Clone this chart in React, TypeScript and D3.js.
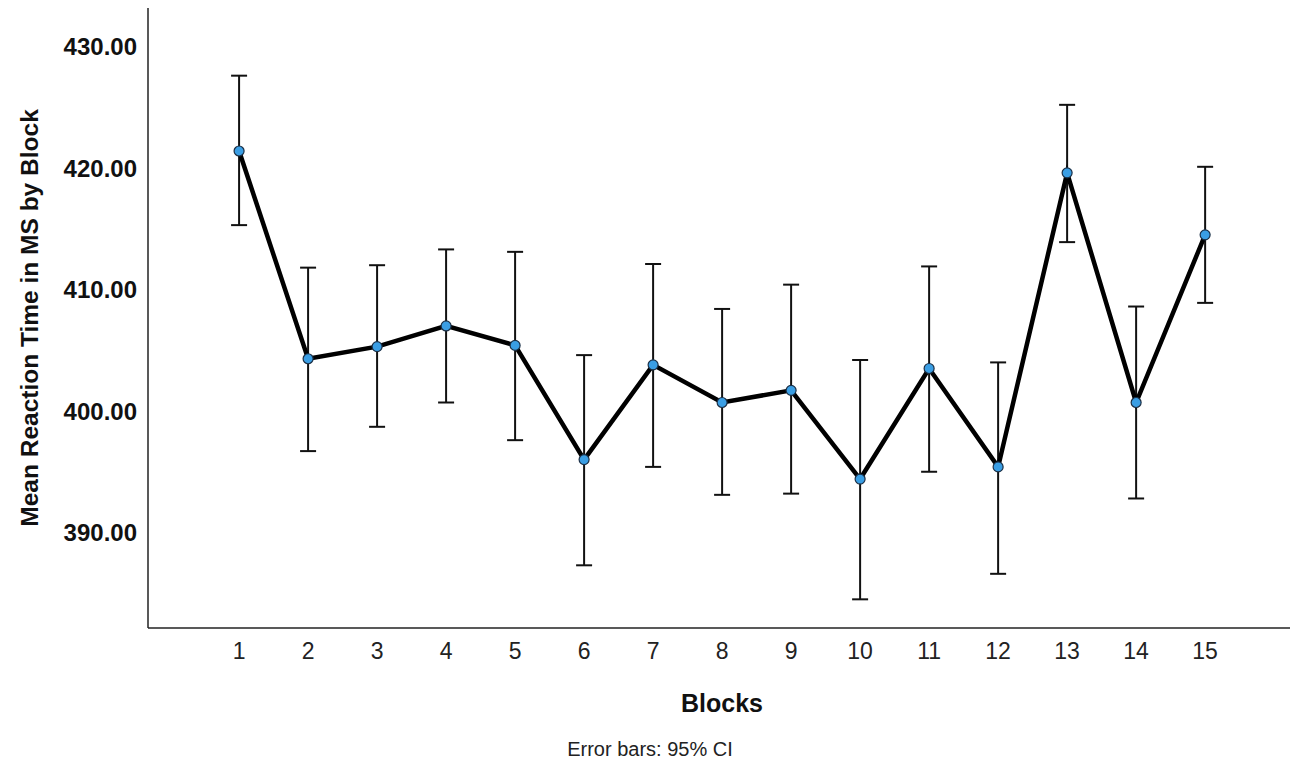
import React, {useEffect, useRef} from 'react'
import * as d3 from 'd3'

const blocks = [1, 2, 3, 4, 5, 6, 7, 8, 9, 10, 11, 12, 13, 14, 15]
const means = [421.4, 404.3, 405.3, 407.0, 405.4, 396.0, 403.8, 400.7, 401.7, 394.4, 403.5, 395.4, 419.6, 400.7, 414.5]
const lower = [415.3, 396.7, 398.7, 400.7, 397.6, 387.3, 395.4, 393.1, 393.2, 384.5, 395.0, 386.6, 413.9, 392.8, 408.9]
const upper = [427.6, 411.8, 412.0, 413.3, 413.1, 404.6, 412.1, 408.4, 410.4, 404.2, 411.9, 404.0, 425.2, 408.6, 420.1]
const yTicks = [390, 400, 410, 420, 430]

const W = 1299
const H = 762

export default function App() {
    const svgRef = useRef<SVGSVGElement>(null)

    useEffect(() => {
        const svg = d3.select(svgRef.current)
        svg.selectAll('*').remove()

        const left = 148, right = 1290, top = 8, bottom = 628
        const font = '"Liberation Sans", Arial, sans-serif'

        const x = d3.scaleLinear().domain([-0.32, 16.23]).range([left, right])
        const y = d3.scaleLinear().domain([382.14, 433.17]).range([bottom, top])

        // axes (no tick marks, just lines + labels)
        svg.append('line')
            .attr('x1', left).attr('x2', left).attr('y1', top).attr('y2', bottom)
            .attr('stroke', '#222').attr('stroke-width', 1.5)
        svg.append('line')
            .attr('x1', left).attr('x2', right).attr('y1', bottom).attr('y2', bottom)
            .attr('stroke', '#222').attr('stroke-width', 1.5)

        svg.append('g')
            .selectAll('text')
            .data(yTicks)
            .join('text')
            .attr('x', 137)
            .attr('y', (d) => y(d))
            .attr('dy', '0.36em')
            .attr('text-anchor', 'end')
            .attr('font-family', font)
            .attr('font-size', 24)
            .attr('font-weight', 'bold')
            .attr('fill', '#111')
            .text((d) => d3.format('.2f')(d))

        svg.append('g')
            .selectAll('text')
            .data(blocks)
            .join('text')
            .attr('x', (d) => x(d))
            .attr('y', 651)
            .attr('dy', '0.36em')
            .attr('text-anchor', 'middle')
            .attr('font-family', font)
            .attr('font-size', 23)
            .attr('fill', '#222')
            .text((d) => d)

        svg.append('text')
            .attr('transform', `translate(38,${(top + bottom) / 2}) rotate(-90)`)
            .attr('text-anchor', 'middle')
            .attr('font-family', font)
            .attr('font-size', 24.5)
            .attr('font-weight', 'bold')
            .attr('fill', '#111')
            .text('Mean Reaction Time in MS by Block')

        svg.append('text')
            .attr('x', 722)
            .attr('y', 703)
            .attr('dy', '0.36em')
            .attr('text-anchor', 'middle')
            .attr('font-family', font)
            .attr('font-size', 25)
            .attr('font-weight', 'bold')
            .attr('fill', '#111')
            .text('Blocks')

        svg.append('text')
            .attr('x', 650)
            .attr('y', 749)
            .attr('dy', '0.36em')
            .attr('text-anchor', 'middle')
            .attr('font-family', font)
            .attr('font-size', 20)
            .attr('fill', '#222')
            .text('Error bars: 95% CI')

        // error bars
        const eb = svg.append('g').attr('stroke', '#111').attr('stroke-width', 2)
        blocks.forEach((b, i) => {
            const cx = x(b)
            eb.append('line').attr('x1', cx).attr('x2', cx).attr('y1', y(upper[i])).attr('y2', y(lower[i]))
            eb.append('line').attr('x1', cx - 8).attr('x2', cx + 8).attr('y1', y(upper[i])).attr('y2', y(upper[i]))
            eb.append('line').attr('x1', cx - 8).attr('x2', cx + 8).attr('y1', y(lower[i])).attr('y2', y(lower[i]))
        })

        // mean line
        const line = d3.line<number>()
            .x((_, i) => x(blocks[i]))
            .y((d) => y(d))
        svg.append('path')
            .datum(means)
            .attr('d', line)
            .attr('fill', 'none')
            .attr('stroke', '#000')
            .attr('stroke-width', 4.5)
            .attr('stroke-linejoin', 'miter')

        svg.append('g')
            .selectAll('circle')
            .data(means)
            .join('circle')
            .attr('cx', (_, i) => x(blocks[i]))
            .attr('cy', (d) => y(d))
            .attr('r', 5)
            .attr('fill', '#3a9ee4')
            .attr('stroke', '#1b2f45')
            .attr('stroke-width', 1.2)
    }, [])

    return (
        <svg
            ref={svgRef}
            width={W}
            height={H}
            style={{position: 'absolute', left: 0, top: 0, background: '#fff'}}
        />
    )
}
